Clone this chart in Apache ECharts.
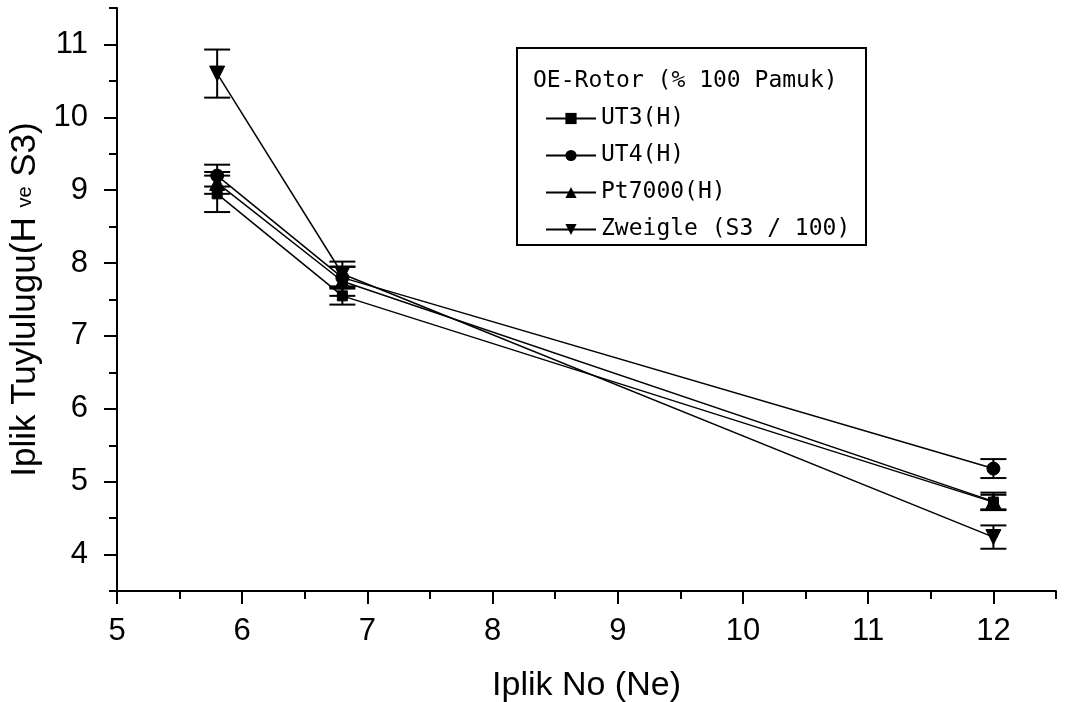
<!DOCTYPE html>
<html>
<head>
<meta charset="utf-8">
<script src="https://cdn.jsdelivr.net/npm/echarts@6/dist/echarts.min.js"></script>
<style>
  html, body { margin: 0; padding: 0; background: #fff; }
  #chart { width: 1067px; height: 702px; }
</style>
</head>
<body>
<div id="chart"></div>
<script>
// Yarn count (Ne) and hairiness readings for each instrument
const yarnCount = [5.8, 6.8, 12];

const ut3 = [8.95, 7.55, 4.72];
const ut4 = [9.2, 7.8, 5.18];
const pt7000 = [9.1, 7.75, 4.73];
const zweigle = [10.6, 7.85, 4.24];

// half-widths of the error bars
const ut3Err = [0.25, 0.12, 0.1];
const ut4Err = [0.15, 0.15, 0.13];
const pt7000Err = [0.15, 0.2, 0.12];
const zweigleErr = [0.33, 0.17, 0.16];

const seriesNames = ['UT3(H)', 'UT4(H)', 'Pt7000(H)', 'Zweigle (S3 / 100)'];

// axis ticks
const xMajor = [5, 6, 7, 8, 9, 10, 11, 12];
const xMinor = [5.5, 6.5, 7.5, 8.5, 9.5, 10.5, 11.5, 12.5];
const yMajor = [4, 5, 6, 7, 8, 9, 10, 11];
const yMinor = [3.5, 4.5, 5.5, 6.5, 7.5, 8.5, 9.5, 10.5, 11.5];

const labelFont = "'Liberation Sans', Arial, sans-serif";
const legendFont = "'DejaVu Sans Mono', 'Liberation Mono', monospace";

const downTriangle = 'path://M0,0 L10,0 L5,10 Z';
const symbols = ['rect', 'circle', 'triangle', downTriangle];
const symbolSizes = [10, 13, 15, 15];

const values = [ut3, ut4, pt7000, zweigle];
const errors = [ut3Err, ut4Err, pt7000Err, zweigleErr];

function pairs(arr) {
  return yarnCount.map((x, i) => [x, arr[i]]);
}

function errorData(vals, errs) {
  return yarnCount.map((x, i) => [x, vals[i] - errs[i], vals[i] + errs[i]]);
}

function renderErrorBar(params, api) {
  const x = api.value(0);
  const lo = api.coord([x, api.value(1)]);
  const hi = api.coord([x, api.value(2)]);
  const half = 13;
  const style = { stroke: '#000', lineWidth: 2, fill: null };
  return {
    type: 'group',
    children: [
      { type: 'line', shape: { x1: lo[0], y1: lo[1], x2: hi[0], y2: hi[1] }, style },
      { type: 'line', shape: { x1: lo[0] - half, y1: lo[1], x2: lo[0] + half, y2: lo[1] }, style },
      { type: 'line', shape: { x1: hi[0] - half, y1: hi[1], x2: hi[0] + half, y2: hi[1] }, style }
    ]
  };
}

const series = [];
values.forEach((vals, k) => {
  series.push({
    type: 'custom',
    name: seriesNames[k] + ' err',
    renderItem: renderErrorBar,
    data: errorData(vals, errors[k]),
    encode: { x: 0, y: [1, 2] },
    silent: true,
    z: 3
  });
});
values.forEach((vals, k) => {
  series.push({
    type: 'line',
    name: seriesNames[k],
    data: pairs(vals),
    symbol: symbols[k],
    symbolSize: symbolSizes[k],
    showAllSymbol: true,
    lineStyle: { color: '#000', width: 1.5 },
    itemStyle: { color: '#000', borderColor: '#000' },
    emphasis: { disabled: true },
    animation: false,
    z: 4
  });
});

const axisLineStyle = { color: '#000', width: 2 };

const option = {
  backgroundColor: '#fff',
  animation: false,
  grid: { left: 117, right: 11, top: 8, bottom: 111, containLabel: false, outerBoundsMode: 'none' },
  title: {
    text: 'OE-Rotor (% 100 Pamuk)',
    left: 528,
    top: 65,
    textStyle: { fontFamily: legendFont, fontSize: 23, fontWeight: 'normal', color: '#000' }
  },
  legend: {
    data: seriesNames,
    orient: 'vertical',
    left: 540,
    top: 100,
    itemWidth: 50,
    itemHeight: 14,
    itemGap: 10,
    selectedMode: false,
    textStyle: { fontFamily: legendFont, fontSize: 23, color: '#000', lineHeight: 27 }
  },
  graphic: [{
    type: 'rect',
    shape: { x: 517, y: 48, width: 349, height: 197 },
    style: { fill: null, stroke: '#000', lineWidth: 2 },
    z: 10
  }],
  xAxis: [{
    type: 'value',
    min: 5,
    max: 12.5,
    name: 'Iplik No (Ne)',
    nameLocation: 'middle',
    nameGap: 78,
    nameTextStyle: { fontFamily: labelFont, fontSize: 34, color: '#000' },
    axisLine: { lineStyle: axisLineStyle },
    axisTick: { show: true, inside: false, length: 13, customValues: xMajor, lineStyle: axisLineStyle },
    axisLabel: { customValues: xMajor, margin: 25, fontFamily: labelFont, fontSize: 31, color: '#000' },
    splitLine: { show: false }
  }, {
    type: 'value',
    min: 5,
    max: 12.5,
    position: 'bottom',
    axisLine: { show: false },
    axisTick: { show: true, inside: false, length: 8, customValues: xMinor, lineStyle: axisLineStyle },
    axisLabel: { show: false },
    splitLine: { show: false }
  }],
  yAxis: [{
    type: 'value',
    min: 3.5,
    max: 11.5,
    name: 'Iplik Tuylulugu(H {s|ve} S3)',
    nameLocation: 'middle',
    nameRotate: 90,
    nameGap: 70,
    nameTextStyle: {
      fontFamily: labelFont, fontSize: 35, color: '#000',
      rich: { s: { fontFamily: labelFont, fontSize: 20, color: '#000' } }
    },
    axisLine: { lineStyle: axisLineStyle },
    axisTick: { show: true, inside: false, length: 13, customValues: yMajor, lineStyle: axisLineStyle },
    axisLabel: { customValues: yMajor, margin: 29, fontFamily: labelFont, fontSize: 31, color: '#000' },
    splitLine: { show: false }
  }, {
    type: 'value',
    min: 3.5,
    max: 11.5,
    position: 'left',
    axisLine: { show: false },
    axisTick: { show: true, inside: false, length: 8, customValues: yMinor, lineStyle: axisLineStyle },
    axisLabel: { show: false },
    splitLine: { show: false }
  }],
  series
};

const chart = echarts.init(document.getElementById('chart'), null, { renderer: 'canvas' });
chart.setOption(option);
</script>
</body>
</html>
